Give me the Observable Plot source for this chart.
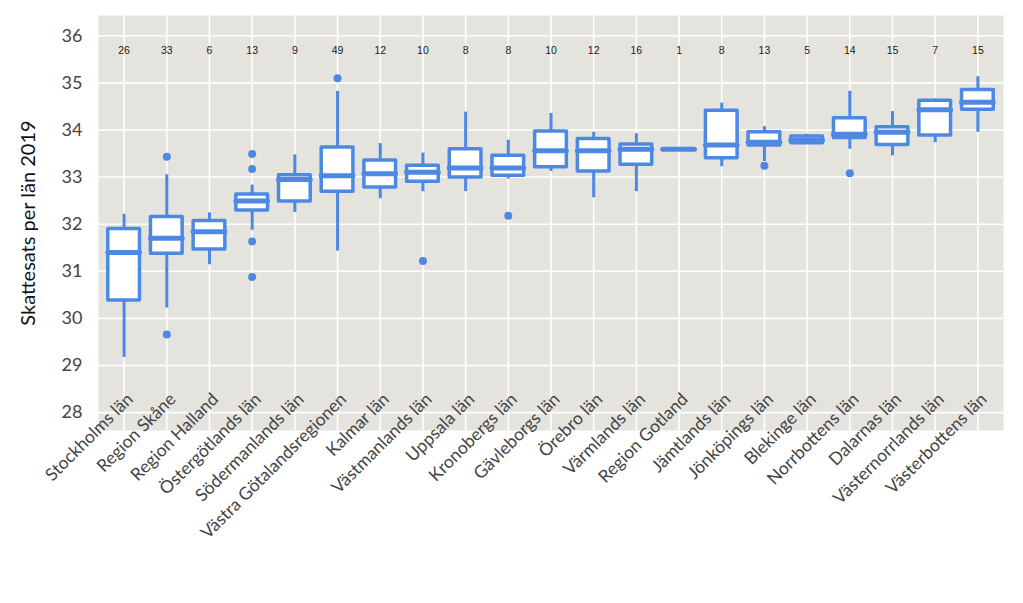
<!DOCTYPE html>
<html>
<head>
<meta charset="utf-8">
<script src="https://cdn.jsdelivr.net/npm/d3@7"></script>
<script src="https://cdn.jsdelivr.net/npm/@observablehq/plot@0.6"></script>
<style>
  html, body { margin: 0; padding: 0; background: #ffffff; }
  #chart { width: 1023px; height: 603px; }
</style>
</head>
<body>
<div id="chart"></div>
<script>
const lan = ["Stockholms län","Region Skåne","Region Halland","Östergötlands län","Södermanlands län","Västra Götalandsregionen","Kalmar län","Västmanlands län","Uppsala län","Kronobergs län","Gävleborgs län","Örebro län","Värmlands län","Region Gotland","Jämtlands län","Jönköpings län","Blekinge län","Norrbottens län","Dalarnas län","Västernorrlands län","Västerbottens län"];
const antal = [26,33,6,13,9,49,12,10,8,8,10,12,16,1,8,13,5,14,15,7,15];
const whiskerLow  = [29.17,30.22,31.14,31.87,32.25,31.43,32.54,32.69,32.69,32.96,33.12,32.56,32.69,33.59,33.22,33.33,33.70,33.59,33.45,33.73,33.95];
const q1          = [30.38,31.37,31.46,32.29,32.48,32.69,32.78,32.90,32.99,33.03,33.21,33.12,33.26,33.59,33.40,33.67,33.72,33.83,33.68,33.88,34.43];
const median      = [31.40,31.70,31.84,32.49,32.95,33.03,33.07,33.10,33.19,33.19,33.56,33.56,33.59,33.59,33.68,33.74,33.78,33.91,33.95,34.43,34.59];
const q3          = [31.90,32.15,32.07,32.63,33.04,33.63,33.35,33.24,33.59,33.45,33.97,33.81,33.69,33.59,34.41,33.95,33.86,34.25,34.06,34.62,34.85];
const whiskerHigh = [32.21,33.05,32.24,32.83,33.47,34.82,33.71,33.51,34.38,33.78,34.35,33.95,33.92,33.59,34.57,34.07,33.91,34.82,34.39,34.66,35.13];
const outlierLan   = ["Region Skåne","Region Skåne","Östergötlands län","Östergötlands län","Östergötlands län","Östergötlands län","Västra Götalandsregionen","Västmanlands län","Kronobergs län","Jönköpings län","Norrbottens län"];
const outlierValue = [33.43,29.66,33.49,33.17,31.63,30.88,35.10,31.22,32.18,33.24,33.08];
const yTicks = [28,29,30,31,32,33,34,35,36];

const boxes = lan.map((l, i) => ({lan: l, n: antal[i], lo: whiskerLow[i], q1: q1[i], med: median[i], q3: q3[i], hi: whiskerHigh[i]}));
const outliers = outlierLan.map((l, i) => ({lan: l, v: outlierValue[i]}));

const blue = "#4d88e4";
const panel = "#e4e3de";

const chart = Plot.plot({
  width: 1023,
  height: 603,
  marginLeft: 98,
  marginRight: 20,
  marginTop: 15,
  marginBottom: 173,
  style: {fontFamily: "Lato, 'Open Sans', sans-serif", background: "#ffffff", color: "#333"},
  x: {type: "band", domain: lan, paddingInner: 0, paddingOuter: 0.1, round: false, label: null},
  y: {domain: [27.62, 36.43], label: null},
  marks: [
    Plot.frame({fill: panel, stroke: null}),
    Plot.gridY(yTicks, {stroke: "#ffffff", strokeOpacity: 1, strokeWidth: 1.6}),
    Plot.gridX({stroke: "#ffffff", strokeOpacity: 1, strokeWidth: 1.6}),
    Plot.ruleX(boxes, {x: "lan", y1: "lo", y2: "hi", stroke: blue, strokeWidth: 3}),
    Plot.barY(boxes, {x: "lan", y1: "q1", y2: "q3", fill: "#ffffff", stroke: blue, strokeWidth: 3.5, insetLeft: 5.5, insetRight: 5.5, strokeLinejoin: "round"}),
    Plot.tickY(boxes, {x: "lan", y: "med", stroke: blue, strokeWidth: 5, insetLeft: 5.5, insetRight: 5.5, strokeLinecap: "round"}),
    Plot.dot(outliers, {x: "lan", y: "v", r: 4, fill: blue, stroke: null}),
    Plot.text(boxes, {x: "lan", text: d => String(d.n), frameAnchor: "top", dy: 31, fontSize: 10.5, fill: "#222", fontFamily: "'Liberation Sans', Arial, sans-serif"}),
    Plot.axisY(yTicks, {tickSize: 0, tickPadding: 16, fontSize: 18, fill: "#444", label: null}),
    Plot.axisY({ticks: [], tickSize: 0, label: "Skattesats per län 2019", labelAnchor: "center", labelArrow: "none", labelOffset: 78, fontSize: 20, fill: "#111"}),
    Plot.axisX({tickSize: 0, tickRotate: -45, textAnchor: "end", fontSize: 17.5, fill: "#444", dx: 6, dy: -46, label: null})
  ]
});
document.getElementById("chart").appendChild(chart);
</script>
</body>
</html>
